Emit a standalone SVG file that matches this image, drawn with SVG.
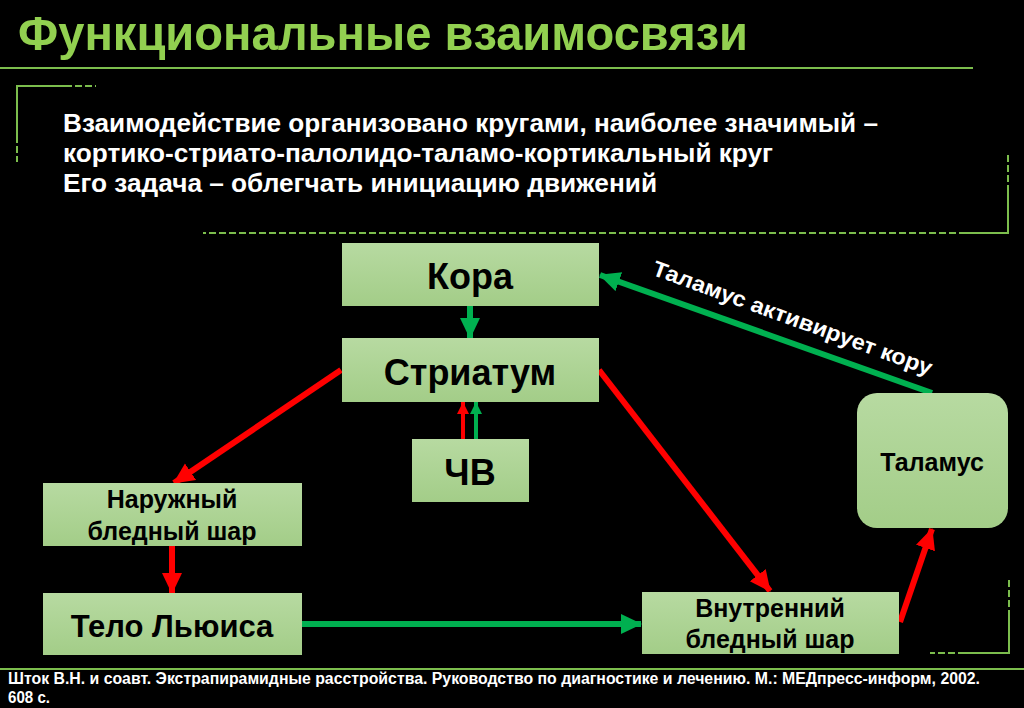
<svg xmlns="http://www.w3.org/2000/svg" width="1024" height="708" viewBox="0 0 1024 708">
<defs>
<linearGradient id="g" x1="0" y1="0" x2="0" y2="1">
<stop offset="0" stop-color="#b7daa1"/>
<stop offset="1" stop-color="#a3cd88"/>
</linearGradient>
<marker id="ar" markerUnits="userSpaceOnUse" markerWidth="24" markerHeight="22" refX="20" refY="10" orient="auto">
<path d="M0,0 L21,10 L0,20 Z" fill="#ff0000"/>
</marker>
<marker id="ag" markerUnits="userSpaceOnUse" markerWidth="24" markerHeight="22" refX="20" refY="10" orient="auto">
<path d="M0,0 L21,10 L0,20 Z" fill="#00b050"/>
</marker>
<marker id="ars" markerUnits="userSpaceOnUse" markerWidth="14" markerHeight="14" refX="12" refY="6" orient="auto">
<path d="M0,0 L12,6 L0,12 Z" fill="#ff0000"/>
</marker>
<marker id="ags" markerUnits="userSpaceOnUse" markerWidth="14" markerHeight="14" refX="12" refY="6" orient="auto">
<path d="M0,0 L12,6 L0,12 Z" fill="#00b050"/>
</marker>
</defs>
<style>
.deco{stroke:#7cbd4d;stroke-width:2;fill:none}
.dash{stroke:#7cbd4d;stroke-width:2;fill:none;stroke-dasharray:7,3}
.box{fill:url(#g)}
.lbl{font-family:"Liberation Sans",Arial,sans-serif;font-weight:bold;fill:#000;text-anchor:middle}
.red{stroke:#ff0000;stroke-width:6;fill:none}
.grn{stroke:#00b050;stroke-width:6;fill:none}
.body{font-family:"Liberation Sans",Arial,sans-serif;font-weight:bold;fill:#fff;font-size:25px}
</style>
<rect width="1024" height="708" fill="#000"/>
<g id="decor">
<text x="18" y="50" font-family="Liberation Sans, Arial, sans-serif" font-weight="bold" font-size="49" fill="#92d050" textLength="730" lengthAdjust="spacingAndGlyphs">Функциональные взаимосвязи</text>
<line class="deco" x1="0" y1="68" x2="973" y2="68"/>
<path class="deco" d="M17,136 V86 H65"/>
<path class="dash" d="M65,86 H96 M17,136 V162"/>
<path class="dash" d="M1008,155 V190 M966,233 H203"/>
<path class="deco" d="M1008,190 V233 H966"/>
<path class="dash" d="M1009,580 V612 M965,653 H930"/>
<path class="deco" d="M1009,612 V653 H965"/>
<line class="deco" x1="0" y1="669" x2="1024" y2="669"/>
<text class="body" x="63" y="132" textLength="815" lengthAdjust="spacingAndGlyphs">Взаимодействие организовано кругами, наиболее значимый –</text>
<text class="body" x="63" y="162" textLength="710" lengthAdjust="spacingAndGlyphs">кортико-стриато-палолидо-таламо-кортикальный круг</text>
<text class="body" x="63" y="192" textLength="594" lengthAdjust="spacingAndGlyphs">Его задача – облегчать инициацию движений</text>
<text x="8" y="684" font-family="Liberation Sans, Arial, sans-serif" font-weight="bold" font-size="16" fill="#fff" textLength="972" lengthAdjust="spacingAndGlyphs">Шток В.Н. и соавт. Экстрапирамидные расстройства. Руководство по диагностике и лечению. М.: МЕДпресс-информ, 2002.</text>
<text x="8" y="703" font-family="Liberation Sans, Arial, sans-serif" font-weight="bold" font-size="16" fill="#fff" textLength="42" lengthAdjust="spacingAndGlyphs">608 с.</text>
</g>
<g id="connectors">
<line class="grn" x1="470" y1="306" x2="470" y2="338" marker-end="url(#ag)"/>
<line stroke="#ff0000" stroke-width="4" x1="463" y1="439" x2="463" y2="402" marker-end="url(#ars)"/>
<line stroke="#00b050" stroke-width="4" x1="476" y1="439" x2="476" y2="402" marker-end="url(#ags)"/>
<line class="red" x1="341" y1="370" x2="174" y2="483" marker-end="url(#ar)"/>
<line class="red" x1="172" y1="546" x2="172" y2="593" marker-end="url(#ar)"/>
<line class="grn" x1="302" y1="624" x2="641" y2="624" marker-end="url(#ag)"/>
<line class="red" x1="599" y1="370" x2="770" y2="591" marker-end="url(#ar)"/>
<line class="red" x1="900" y1="622" x2="932" y2="529" marker-end="url(#ar)"/>
<line class="grn" x1="932" y1="393" x2="600" y2="275" marker-end="url(#ag)"/>
<text x="790" y="325" transform="rotate(20 790 325)" font-family="Liberation Sans, Arial, sans-serif" font-weight="bold" font-size="22" fill="#fff" text-anchor="middle" textLength="296" lengthAdjust="spacingAndGlyphs">Таламус активирует кору</text>
</g>
<g id="kora">
<rect class="box" x="342" y="243" width="257" height="63"/>
<text class="lbl" x="470" y="289" font-size="36">Кора</text>
</g>
<g id="striatum">
<rect class="box" x="342" y="338" width="257" height="64"/>
<text class="lbl" x="470" y="385" font-size="36">Стриатум</text>
</g>
<g id="chv">
<rect class="box" x="412" y="439" width="117" height="63"/>
<text class="lbl" x="470" y="485" font-size="36">ЧВ</text>
</g>
<g id="naruzhny">
<rect class="box" x="43" y="483" width="259" height="63"/>
<text class="lbl" x="172" y="508" font-size="25">Наружный</text>
<text class="lbl" x="172" y="540" font-size="25">бледный шар</text>
</g>
<g id="telo">
<rect class="box" x="43" y="593" width="259" height="62"/>
<text class="lbl" x="172" y="637" font-size="31">Тело Льюиса</text>
</g>
<g id="vnutrenny">
<rect class="box" x="642" y="592" width="257" height="62"/>
<text class="lbl" x="770" y="617" font-size="25">Внутренний</text>
<text class="lbl" x="770" y="648" font-size="25">бледный шар</text>
</g>
<g id="talamus">
<rect class="box" x="857" y="393" width="151" height="135" rx="20"/>
<text class="lbl" x="932" y="471" font-size="25">Таламус</text>
</g>
</svg>
